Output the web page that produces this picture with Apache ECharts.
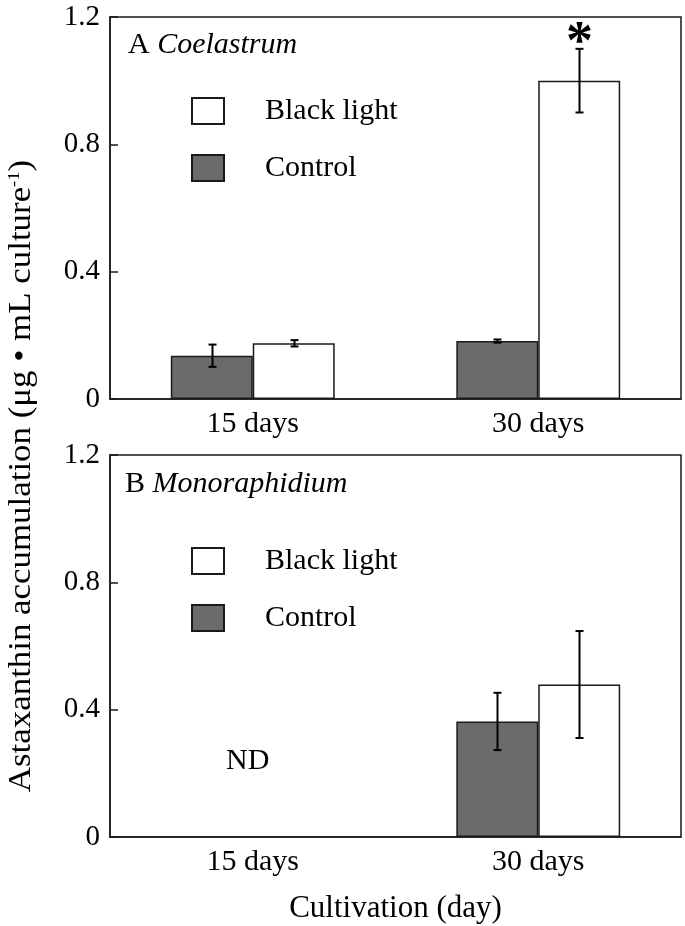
<!DOCTYPE html>
<html>
<head>
<meta charset="utf-8">
<script src="https://cdn.jsdelivr.net/npm/echarts@6/dist/echarts.min.js"></script>
<style>
  html, body { margin: 0; padding: 0; background: #fff; }
  #chart { width: 685px; height: 926px; }
</style>
</head>
<body>
<div id="chart"></div>
<script>
// values
const categories = ["15 days", "30 days"];
const yTicks = [0, 0.4, 0.8, 1.2];

const coelControl = [0.136, 0.182];
const coelControlErr = [0.035, 0.005];
const coelBlack = [0.175, 1.0];
const coelBlackErr = [0.01, 0.1];
const coelBlackSig = ["", "*"];

const monoControl = [null, 0.363];
const monoControlErr = [null, 0.09];
const monoBlack = [null, 0.479];
const monoBlackErr = [null, 0.168];

const FONT = "Liberation Serif";
const LINE = "#1a1a1a";
const GAP = 0.426; // barCategoryGap
const barFrac = (1 - GAP) / 2;

const chartDom = document.getElementById("chart");
const myChart = echarts.init(chartDom);

function errData(vals, errs) {
  return vals.map((v, i) => [i, v, errs[i]]);
}

function errorRenderer(side, sig) {
  return function (params, api) {
    const cat = api.value(0);
    const val = api.value(1);
    const err = api.value(2);
    if (isNaN(val) || isNaN(err)) return null;
    const band = api.size([1, 0])[0];
    const dx = (side * band * barFrac) / 2;
    const hi = api.coord([cat, val + err]);
    const lo = api.coord([cat, val - err]);
    const x = Math.round(hi[0] + dx) + 0.5;
    const cap = 4;
    const style = { stroke: "#000", lineWidth: 2 };
    const children = [
      { type: "line", shape: { x1: x, y1: hi[1], x2: x, y2: lo[1] }, style: style },
      { type: "line", shape: { x1: x - cap, y1: hi[1], x2: x + cap, y2: hi[1] }, style: style },
      { type: "line", shape: { x1: x - cap, y1: lo[1], x2: x + cap, y2: lo[1] }, style: style },
    ];
    if (sig && sig[params.dataIndex]) {
      children.push({
        type: "text",
        x: x,
        y: hi[1] + 22,
        style: {
          text: sig[params.dataIndex],
          font: "bold 54px " + FONT,
          fill: "#000",
          align: "center",
          verticalAlign: "bottom",
        },
      });
    }
    return { type: "group", children: children };
  };
}

function barSeries(name, data, color, gridIdx) {
  return {
    name: name,
    type: "bar",
    xAxisIndex: gridIdx,
    yAxisIndex: gridIdx,
    data: data,
    barGap: 0,
    barCategoryGap: GAP * 100 + "%",
    itemStyle: { color: color, borderColor: LINE, borderWidth: 1.5 },
    animation: false,
    silent: true,
  };
}

function errSeries(name, vals, errs, side, sig, gridIdx) {
  return {
    name: name,
    type: "custom",
    xAxisIndex: gridIdx,
    yAxisIndex: gridIdx,
    data: errData(vals, errs),
    encode: { x: 0, y: 1 },
    renderItem: errorRenderer(side, sig),
    z: 5,
    animation: false,
    silent: true,
  };
}

const gridTops = [17, 455];
const gridHeight = 382;

const xAxisBase = {
  type: "category",
  data: categories,
  axisTick: { show: false },
  axisLine: { lineStyle: { color: LINE, width: 1.5 } },
  axisLabel: { color: "#000", fontFamily: FONT, fontSize: 30, margin: 10 },
};

const yAxisBase = {
  type: "value",
  min: yTicks[0],
  max: yTicks[yTicks.length - 1],
  interval: yTicks[1] - yTicks[0],
  splitLine: { show: false },
  axisLine: { show: true, lineStyle: { color: LINE, width: 1.5 } },
  axisTick: { show: true, inside: true, length: 8, lineStyle: { color: LINE, width: 1.5 } },
  axisLabel: { color: "#000", fontFamily: FONT, fontSize: 29, margin: 10 },
};

const legendBase = {
  orient: "vertical",
  left: 191,
  padding: 0,
  itemWidth: 32,
  itemHeight: 26,
  itemGap: 27,
  icon: "rect",
  selectedMode: false,
  data: ["Black light", "Control"],
  textStyle: { color: "#000", fontFamily: FONT, fontSize: 30, lineHeight: 26, padding: [0, 0, 0, 36] },
};

const titleRich = {
  n: { fontFamily: FONT, fontSize: 30, fontWeight: "normal", color: "#000" },
  i: { fontFamily: FONT, fontSize: 30, fontWeight: "normal", fontStyle: "italic", color: "#000" },
};

const option = {
  backgroundColor: "#fff",
  animation: false,
  title: [
    { text: "{n|A }{i|Coelastrum}", left: 128, top: 30, padding: 0, textStyle: { fontWeight: "normal", rich: titleRich } },
    { text: "{n|B }{i|Monoraphidium}", left: 125, top: 469, padding: 0, textStyle: { fontWeight: "normal", rich: titleRich } },
  ],
  legend: [
    Object.assign({}, legendBase, { top: 96 }),
    Object.assign({}, legendBase, { top: 546 }),
  ],
  grid: gridTops.map((t) => ({
    left: 110,
    top: t,
    width: 571,
    height: gridHeight,
    show: true,
    borderColor: LINE,
    borderWidth: 1.5,
    backgroundColor: "transparent",
  })),
  xAxis: [
    Object.assign({}, xAxisBase, { gridIndex: 0 }),
    Object.assign({}, xAxisBase, {
      gridIndex: 1,
      name: "Cultivation (day)",
      nameLocation: "middle",
      nameGap: 56,
      nameTextStyle: { color: "#000", fontFamily: FONT, fontSize: 31 },
    }),
  ],
  yAxis: [
    Object.assign({}, yAxisBase, { gridIndex: 0 }),
    Object.assign({}, yAxisBase, { gridIndex: 1 }),
  ],
  graphic: [
    {
      type: "text",
      x: 22,
      y: 476,
      rotation: Math.PI / 2,
      scaleX: 1.09,
      style: {
        text: "{n|Astaxanthin accumulation (μg • mL culture}{s|-1}{n|)}",
        align: "center",
        verticalAlign: "middle",
        rich: {
          n: { fontFamily: FONT, fontSize: 32, fill: "#000" },
          s: { fontFamily: FONT, fontSize: 17, fill: "#000", verticalAlign: "top" },
        },
      },
    },
    {
      type: "text",
      left: 226,
      top: 746,
      style: { text: "ND", font: "30px " + FONT, fill: "#000" },
    },
  ],
  series: [
    barSeries("Control", coelControl, "#6b6b6b", 0),
    barSeries("Black light", coelBlack, "#ffffff", 0),
    errSeries("Control err A", coelControl, coelControlErr, -1, null, 0),
    errSeries("Black light err A", coelBlack, coelBlackErr, 1, coelBlackSig, 0),
    barSeries("Control", monoControl, "#6b6b6b", 1),
    barSeries("Black light", monoBlack, "#ffffff", 1),
    errSeries("Control err B", monoControl, monoControlErr, -1, null, 1),
    errSeries("Black light err B", monoBlack, monoBlackErr, 1, null, 1),
  ],
};

myChart.setOption(option);
</script>
</body>
</html>
